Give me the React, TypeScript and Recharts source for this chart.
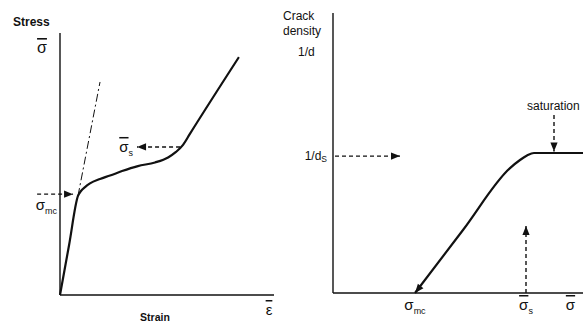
import React from 'react';
import { LineChart, Line, XAxis, YAxis, ReferenceLine, ReferenceDot, Label } from 'recharts';

// Stress-strain response (normalised units)
const strain = [0, 0.42, 0.84, 0.98, 1.17, 1.4, 1.87, 2.34, 2.9, 3.64, 4.44, 5.05, 5.42, 5.75, 6.07, 8.36];
const stress = [0, 1.89, 3.78, 3.97, 4.12, 4.26, 4.43, 4.56, 4.73, 4.92, 5.06, 5.25, 5.46, 5.73, 6.15, 9.08];

// initial elastic slope, continued past the cracking point
const elasticStrain = [0.84, 1.87];
const elasticStress = [3.78, 8.13];

const sigmaMc = 3.78; // matrix cracking stress
const sigmaS = 5.65; // saturation stress

// Crack density vs applied stress
const appliedStress = [3.28, 5.2, 7.08, 7.48, 7.76, 8.04, 10];
const crackDensity = [0, 2.25, 4.46, 4.75, 4.91, 5.0, 5.0];
const saturationDensity = 5.0;

const stressTicks = [3.28, 7.72, 9.5];
const stressTickSubs = ['mc', 's', ''];
const stressTickBars = [false, true, true];

const stressStrain = strain.map((e, i) => ({ strain: e, stress: stress[i] }));
const crackCurve = appliedStress.map((s, i) => ({ stress: s, density: crackDensity[i] }));

const FONT = '"Liberation Sans", Arial, Helvetica, sans-serif';
const INK = '#111';

function Sym({ x, y, ch = 'σ', sub, bar, size = 15, anchor = 'start' }: any) {
  return (
    <text x={x} y={y} fontSize={size} fontFamily={FONT} textAnchor={anchor} fill={INK}>
      <tspan textDecoration={bar ? 'overline' : undefined}>{ch}</tspan>
      {sub ? (
        <tspan fontSize={size * 0.6} dy={4}>
          {sub}
        </tspan>
      ) : null}
    </text>
  );
}

const arrowHead = (angle: number) => (props: any) => {
  const { cx, cy } = props;
  return (
    <path
      d="M0,0 L-9,-3.6 L-9,3.6 Z"
      fill={INK}
      transform={`translate(${cx},${cy}) rotate(${angle})`}
    />
  );
};

// dashed line with a filled head at the `to` end
const dashedArrow = (key: string, from: number[], to: number[], angle: number) => [
  <ReferenceLine
    key={key + '-line'}
    segment={[
      { x: from[0], y: from[1] },
      { x: to[0], y: to[1] },
    ]}
    stroke={INK}
    strokeWidth={1.4}
    strokeDasharray="4 3"
    ifOverflow="visible"
  />,
  <ReferenceDot key={key + '-head'} x={to[0]} y={to[1]} r={0} ifOverflow="visible" shape={arrowHead(angle)} />,
];

const textAt = (render: (cx: number, cy: number) => React.ReactNode) => (props: any) => (
  <g>{render(props.cx, props.cy)}</g>
);

const StressStrainChart = () => (
  <LineChart
    width={290}
    height={324}
    data={stressStrain}
    margin={{ top: 33, right: 16, bottom: 28, left: 59 }}
  >
    <XAxis
      type="number"
      dataKey="strain"
      domain={[0, 10]}
      height={1}
      tick={false}
      tickLine={false}
      axisLine={{ stroke: INK, strokeWidth: 1.4 }}
    >
      <Label
        content={({ viewBox }: any) => (
          <g>
            <Sym x={viewBox.x + 209} y={viewBox.y + 20} ch="ε" bar size={15} anchor="middle" />
            <text
              x={viewBox.x + 95}
              y={viewBox.y + 26}
              fontSize={10.5}
              fontWeight="bold"
              fontFamily={FONT}
              textAnchor="middle"
              fill={INK}
            >
              Strain
            </text>
          </g>
        )}
      />
    </XAxis>
    <YAxis
      type="number"
      dataKey="stress"
      domain={[0, 10]}
      width={1}
      ticks={[sigmaMc]}
      tickLine={false}
      axisLine={{ stroke: INK, strokeWidth: 1.4 }}
      tick={(props: any) => <Sym x={57} y={props.y + 14} sub="mc" size={15} anchor="end" />}
    >
      <Label
        content={() => (
          <g>
            <text x={13} y={26} fontSize={12} fontWeight="bold" fontFamily={FONT} fill={INK}>
              Stress
            </text>
            <Sym x={42} y={53} bar size={16} anchor="middle" />
          </g>
        )}
      />
    </YAxis>
    <ReferenceLine
      segment={[
        { x: elasticStrain[0], y: elasticStress[0] },
        { x: elasticStrain[1], y: elasticStress[1] },
      ]}
      stroke={INK}
      strokeWidth={1}
      strokeDasharray="8 3 2 3"
      ifOverflow="visible"
    />
    {dashedArrow('mc', [-1.07, 3.85], [0.61, 3.85], 0)}
    {dashedArrow('s', [5.61, sigmaS], [3.6, sigmaS], 180)}
    <ReferenceDot
      x={3.6}
      y={sigmaS}
      r={0}
      ifOverflow="visible"
      shape={textAt((cx, cy) => <Sym x={cx - 4} y={cy + 5} sub="s" bar size={15} anchor="end" />)}
    />
    <Line
      type="monotone"
      dataKey="stress"
      stroke={INK}
      strokeWidth={2.2}
      dot={false}
      isAnimationActive={false}
    />
  </LineChart>
);

const CrackDensityChart = () => (
  <LineChart
    width={313}
    height={324}
    data={crackCurve}
    margin={{ top: 13, right: 0, bottom: 30, left: 62 }}
  >
    <XAxis
      type="number"
      dataKey="stress"
      domain={[0, 10]}
      height={1}
      ticks={stressTicks}
      tickLine={false}
      axisLine={{ stroke: INK, strokeWidth: 1.4 }}
      tick={(props: any) => {
        const i = stressTicks.indexOf(props.payload.value);
        return <Sym x={props.x} y={310} sub={stressTickSubs[i]} bar={stressTickBars[i]} size={15} anchor="middle" />;
      }}
    />
    <YAxis
      type="number"
      dataKey="density"
      domain={[0, 10]}
      width={1}
      ticks={[saturationDensity]}
      tickLine={false}
      axisLine={{ stroke: INK, strokeWidth: 1.4 }}
      tick={(props: any) => (
        <text x={57} y={props.y + 7} fontSize={12} fontFamily={FONT} textAnchor="end" fill={INK}>
          1/d
          <tspan fontSize={8.5} dy={2}>
            S
          </tspan>
        </text>
      )}
    >
      <Label
        content={() => (
          <g fontSize={12} fontFamily={FONT} fill={INK}>
            <text x={13} y={20}>
              Crack
            </text>
            <text x={13} y={35}>
              density
            </text>
            <text x={28} y={56}>
              1/d
            </text>
          </g>
        )}
      />
    </YAxis>
    {dashedArrow('ds', [0.08, 4.89], [2.68, 4.89], 0)}
    {dashedArrow('sat', [8.84, 6.36], [8.84, 5.05], 90)}
    {dashedArrow('sigmaS', [7.72, 0], [7.72, 2.39], -90)}
    <ReferenceDot
      x={8.84}
      y={6.36}
      r={0}
      ifOverflow="visible"
      shape={textAt((cx, cy) => (
        <text x={cx - 27} y={cy - 5} fontSize={12} fontFamily={FONT} fill={INK}>
          saturation
        </text>
      ))}
    />
    <Line
      type="monotone"
      dataKey="density"
      stroke={INK}
      strokeWidth={2.2}
      dot={false}
      isAnimationActive={false}
    />
    <ReferenceDot x={appliedStress[0]} y={crackDensity[0]} r={0} ifOverflow="visible" shape={arrowHead(129)} />
  </LineChart>
);

export default function App() {
  return (
    <div style={{ position: 'absolute', left: 0, top: 0, width: 583, height: 324, overflow: 'hidden', background: '#fff' }}>
      <div style={{ position: 'absolute', left: 0, top: 0 }}>
        <StressStrainChart />
      </div>
      <div style={{ position: 'absolute', left: 270, top: 0 }}>
        <CrackDensityChart />
      </div>
    </div>
  );
}
